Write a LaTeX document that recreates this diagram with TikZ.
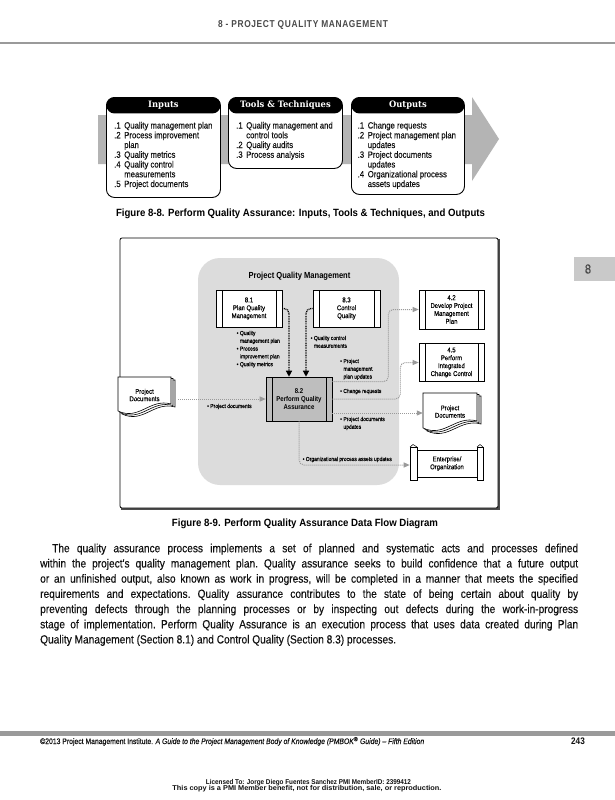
\documentclass[tikz,border=0pt]{standalone}
\usepackage{graphicx}
\usepackage{fontspec}
\setmainfont{Liberation Sans}[FakeStretch=0.86]
\newfontfamily\medfont{Liberation Sans}[FakeStretch=0.86,FakeBold=0.2]
\newfontfamily\slab{DejaVu Serif}[FakeStretch=0.95]
\newfontfamily\wide{Liberation Sans}
\newfontfamily\hdfont{Liberation Sans}[FakeStretch=0.78,LetterSpace=6]
\usetikzlibrary{arrows.meta,calc}
\definecolor{hdgray}{HTML}{4A4A4A}
\definecolor{rulegray}{HTML}{9A9A9A}
\definecolor{ittogray}{HTML}{B4B4B4}
\definecolor{regiongray}{HTML}{DCDCDC}
\definecolor{procgray}{HTML}{BEBEBE}
\definecolor{dotgray}{HTML}{9A9A9A}
\definecolor{tabgray}{HTML}{C9C9C9}
\definecolor{textblack}{HTML}{111111}
\newcommand\fitto[2]{\resizebox{#1}{\height}{#2}}
\newcommand\docpage[4]{\draw[line width=0.6, fill=white] ({#1},{#2}) -- ({#1+#3},{#2}) -- ({#1+#3},{#2+#4-7}) .. controls ({#1+0.6*#3},{#2+#4-13}) and ({#1+0.4*#3},{#2+#4+10}) .. ({#1},{#2+#4}) -- cycle;}
\newcommand\docstack[4]{\docpage{#1+4}{#2+3}{#3}{#4}\docpage{#1+2}{#2+1.5}{#3}{#4}\docpage{#1}{#2}{#3}{#4}}
\tikzset{
  ittobox/.style={draw, line width=0.9, rounded corners=8, fill=white, anchor=north west, inner sep=0,
    path picture={\fill[black] (path picture bounding box.north west) rectangle ([yshift=-16pt]path picture bounding box.north east);}},
  ittohead/.style={text=white, inner sep=0, font=\slab\bfseries\fontsize{8.8}{10}\selectfont},
  ittoitem/.style={anchor=base west, inner sep=0, text=textblack, font=\medfont\fontsize{9}{9.75}\selectfont},
  proc/.style={draw, line width=0.6, fill=white, inner sep=0, align=center, font=\medfont\fontsize{6.9}{7.9}\selectfont,
    path picture={\draw[line width=0.5] ([xshift=6pt]path picture bounding box.north west) -- ([xshift=6pt]path picture bounding box.south west);
      \draw[line width=0.5] ([xshift=-6pt]path picture bounding box.north east) -- ([xshift=-6pt]path picture bounding box.south east);}},
  doctext/.style={inner sep=0, align=center, font=\medfont\fontsize{6.9}{7.4}\selectfont},
  lbl/.style={anchor=base west, inner sep=0, font=\medfont\fontsize{5.8}{7.8}\selectfont},
  blkdot/.style={line width=1.3, dash pattern=on 0.9pt off 0.8pt, rounded corners=5, -{Triangle[width=6pt,length=6pt]}},
  gdot/.style={draw=dotgray, line width=1, dash pattern=on 1pt off 1pt, rounded corners=5, -{Triangle[width=5pt,length=6pt,fill=dotgray]}},
}
\begin{document}
\begin{tikzpicture}[x=1pt,y=-1pt]
\useasboundingbox (0,0) rectangle (615,800);
\fill[white] (0,0) rectangle (615,800);

% page header
\node[text=hdgray, inner sep=0] (hdr) at (303,25) {\fitto{170pt}{\hdfont\bfseries\fontsize{10}{12}\selectfont 8 - PROJECT QUALITY MANAGEMENT}};
\draw[rulegray, line width=2] (0,43.5) -- (615,43.5);

% ITTO
\fill[ittogray] (98,115) -- (472,115) -- (472,97) -- (499,139) -- (472,181) -- (472,164) -- (98,164) -- cycle;
\node[ittobox, minimum width=114, minimum height=100] (inputs) at (106,97) {};
\node[ittobox, minimum width=114, minimum height=71] (tools) at (228,97) {};
\node[ittobox, minimum width=113, minimum height=97] (outputs) at (351,97) {};
\node[ittohead] (inh) at ([yshift=-8pt]inputs.north) {Inputs};
\node[ittohead] (toh) at ([yshift=-8pt]tools.north) {Tools \& Techniques};
\node[ittohead] (ouh) at ([yshift=-8pt]outputs.north) {Outputs};
\node[ittoitem] (inl) at (114,128.5) {\begin{tabular}[t]{@{}l@{\hspace{3.6pt}}l@{}}.1&Quality management plan\\.2&Process improvement\\&plan\\.3&Quality metrics\\.4&Quality control\\&measurements\\.5&Project documents\end{tabular}};
\node[ittoitem] (tol) at (236,128.5) {\begin{tabular}[t]{@{}l@{\hspace{3.6pt}}l@{}}.1&Quality management and\\&control tools\\.2&Quality audits\\.3&Process analysis\end{tabular}};
\node[ittoitem] (oul) at (357.5,128.5) {\begin{tabular}[t]{@{}l@{\hspace{3.6pt}}l@{}}.1&Change requests\\.2&Project management plan\\&updates\\.3&Project documents\\&updates\\.4&Organizational process\\&assets updates\end{tabular}};
\node[inner sep=0] (cap1) at (300.5,214) {\fitto{369pt}{\bfseries\fontsize{10.5}{12}\selectfont Figure 8-8. Perform Quality Assurance: Inputs, Tools \& Techniques, and Outputs}};

% data flow frame
\draw[line width=1.6, black!70] (121,509) -- (499,509) -- (499,239);
\draw[line width=0.8, fill=white, rounded corners=2] (120,238) rectangle (498,508);
\fill[regiongray, rounded corners=22] (198,258) rectangle (399,485);
\node[font=\bfseries\fontsize{8.8}{10}\selectfont, inner sep=0] (pqm) at (299.5,276) {Project Quality Management};

\node[proc, minimum width=66, minimum height=37] (p81) at (249,308.5) {8.1\\Plan Quality\\Management};
\node[proc, minimum width=67, minimum height=37] (p83) at (346.5,308.5) {8.3\\Control\\Quality};
\node[proc, fill=procgray, minimum width=66, minimum height=44, font=\bfseries\fontsize{7}{8}\selectfont] (qa) at (299,399) {8.2\\Perform Quality\\Assurance};
\node[proc, minimum width=65, minimum height=39] (p42) at (451.5,309.5) {4.2\\Develop Project\\Management\\Plan};
\node[proc, minimum width=65, minimum height=38] (p45) at (451.5,362.5) {4.5\\Perform\\Integrated\\Change Control};

% documents
\docstack{118}{377}{53}{34}
\node[doctext, minimum width=53, minimum height=34] (pdL) at (144.5,395) {Project\\Documents};
\docstack{423}{393}{54}{35}
\node[doctext, minimum width=54, minimum height=35] (pdR) at (450,411.5) {Project\\Documents};

% enterprise scroll
\draw[line width=0.6, fill=white] (410,447) rectangle (417,480);
\draw[line width=0.6, fill=white] (477,447) rectangle (483,480);
\node[proc, path picture={}, minimum width=60, minimum height=27] (ent) at (447,463.5) {Enterprise/\\Organization};
\draw[line width=0.5] (410,447) -- (413,444.5) -- (417,447);
\draw[line width=0.5] (477,447) -- (480,444.5) -- (483,447);

% connectors
\draw[blkdot] (p81.east) -| ([xshift=-10pt]qa.north);
\draw[blkdot] (p83.west) -| ([xshift=7pt]qa.north);
\coordinate (sL) at ([xshift=7pt]pdL.east |- qa.west);
\draw[gdot] (sL) -- (qa.west);
\coordinate (s1) at ([yshift=-5pt]qa.north east);
\draw[gdot] (s1) -- ++(56,0) |- (p42.west);
\draw[gdot] (qa.east) -- ++(68,0) |- (p45.west);
\coordinate (s3) at ([yshift=-14pt]qa.east);
\draw[gdot] (s3) -- (s3 -| pdR.west);
\coordinate (eL) at ([xshift=-7pt,yshift=-1.5pt]ent.west);
\draw[gdot] (qa.south) |- (eL);

% labels
\node[lbl] (l1) at (236.5,335) {\begin{tabular}[t]{@{}l@{\hspace{1.5pt}}l@{}}•&Quality\\&management plan\\•&Process\\&improvement plan\\•&Quality metrics\end{tabular}};
\node[lbl] (l2) at (310.5,340) {\begin{tabular}[t]{@{}l@{\hspace{1.5pt}}l@{}}•&Quality control\\&measurements\end{tabular}};
\node[lbl] (l3) at (340,363) {\begin{tabular}[t]{@{}l@{\hspace{1.5pt}}l@{}}•&Project\\&management\\&plan updates\end{tabular}};
\node[lbl] (l4) at (340,393) {• Change requests};
\node[lbl] (l5) at (340,421) {\begin{tabular}[t]{@{}l@{\hspace{1.5pt}}l@{}}•&Project documents\\&updates\end{tabular}};
\node[lbl] (l6) at (302.5,461) {• Organizational process assets updates};
\node[lbl] (l7) at (207,408) {• Project documents};

% chapter tab
\fill[tabgray] (574,257) rectangle (615,281);
\node[text=hdgray, font=\medfont\fontsize{13}{14}\selectfont, inner sep=0] (tab) at (588,269) {8};

% caption 8-9 and paragraph
\node[inner sep=0] (cap2) at (305,524) {\fitto{266pt}{\bfseries\fontsize{10.5}{12}\selectfont Figure 8-9. Perform Quality Assurance Data Flow Diagram}};
\node[anchor=north west, inner sep=0, text width=538pt, align=justify, text=textblack, font=\medfont\fontsize{11.8}{15.2}\selectfont] (para) at (40,543.5) {\frenchspacing\tolerance=10000\hyphenpenalty=10000\hspace*{12pt}The quality assurance process implements a set of planned and systematic acts and processes defined\linebreak within the project's quality management plan. Quality assurance seeks to build confidence that a future output\linebreak or an unfinished output, also known as work in progress, will be completed in a manner that meets the specified\linebreak requirements and expectations. Quality assurance contributes to the state of being certain about quality by\linebreak preventing defects through the planning processes or by inspecting out defects during the work-in-progress\linebreak stage of implementation. Perform Quality Assurance is an execution process that uses data created during Plan\linebreak Quality Management (Section 8.1) and Control Quality (Section 8.3) processes.};

% footer
\fill[rulegray] (0,731) rectangle (615,735.5);
\node[anchor=base west, inner sep=0, text=textblack] (foot) at (40,744) {\fitto{384pt}{\medfont\fontsize{8}{9}\selectfont ©2013 Project Management Institute. \textit{A Guide to the Project Management Body of Knowledge (PMBOK\textsuperscript{®} Guide) – Fifth Edition}}};
\node[anchor=base east, inner sep=0, text=textblack, font=\bfseries\fontsize{9.5}{10}\selectfont] (pg) at (585,744) {243};
\node[anchor=base, inner sep=0, text=textblack] (lic1) at (308.5,784) {\fitto{205pt}{\wide\bfseries\fontsize{7}{8}\selectfont Licensed To: Jorge Diego Fuentes Sanchez PMI MemberID: 2399412}};
\node[anchor=base, inner sep=0, text=textblack] (lic2) at (307,790.5) {\fitto{269pt}{\wide\bfseries\fontsize{7}{8}\selectfont This copy is a PMI Member benefit, not for distribution, sale, or reproduction.}};
\end{tikzpicture}
\end{document}
